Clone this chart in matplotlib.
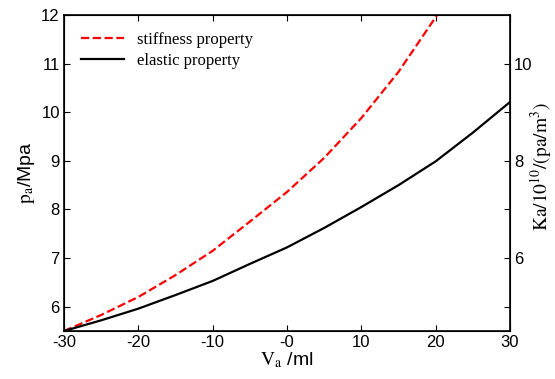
import numpy as np
import matplotlib
matplotlib.use('Agg')
import matplotlib.pyplot as plt

plt.rcParams['font.family'] = ['Liberation Sans', 'DejaVu Sans']
plt.rcParams['mathtext.fontset'] = 'stix'

# 数据
v_stiff = [-30, -25, -20, -15, -10, -5, 0, 5, 10, 15, 20.2]
p_stiff = [5.5, 5.83, 6.2, 6.65, 7.15, 7.75, 8.36, 9.06, 9.88, 10.83, 12.0]

v_elastic = [-30, -25, -20, -15, -10, -5, 0, 5, 10, 15, 20, 25, 30]
p_elastic = [5.5, 5.72, 5.96, 6.24, 6.53, 6.88, 7.22, 7.62, 8.05, 8.5, 8.99, 9.58, 10.21]

x_ticks = [-30, -20, -10, 0, 10, 20, 30]
x_labels = ['-30', '-20', '-10', '-0', '10', '20', '30']
left_ticks = [6, 7, 8, 9, 10, 11, 12]
right_ticks = [5, 6, 7, 8, 9, 10]
right_labels = ['', '6', '', '8', '', '10']

fig = plt.figure(figsize=(5.55, 3.79), dpi=100)
ax = fig.add_axes([0.1153, 0.1266, 0.8036, 0.8338])

ax.plot(v_stiff, p_stiff, 'r--', lw=1.6, label='stiffness property')
ax.plot(v_elastic, p_elastic, 'k-', lw=1.6, label='elastic property')

ax.set_xlim(-30, 30)
ax.set_ylim(5.5, 12)
ax.set_xticks(x_ticks)
ax.set_xticklabels(x_labels)
ax.set_yticks(left_ticks)
ax.tick_params(direction='in', length=4, labelsize=12, top=True, width=0.8, pad=3)
for s in ax.spines.values():
    s.set_linewidth(1.2)

ax.set_xlabel(r'$\mathrm{V_a}$ /ml', fontsize=14, labelpad=0)
ax.set_ylabel(r'$\mathrm{p_a}$/Mpa', fontsize=14, labelpad=3)

leg = ax.legend(loc='upper left', frameon=False, prop={'family': 'Liberation Serif', 'size': 12},
                handlelength=2.6, borderaxespad=0.6, labelspacing=0.3)

ax2 = ax.twinx()
ax2.set_ylim(4.5, 11)
ax2.set_yticks(right_ticks)
ax2.set_yticklabels(right_labels)
ax2.tick_params(direction='in', length=4, labelsize=12, width=0.8, pad=3)

# 右侧标签
fig.text(0.975, 0.56, r'$\mathrm{Ka/10^{10}/(pa/m^{3})}$', fontsize=14,
         rotation=90, ha='center', va='center')

plt.savefig('out.png', dpi=100)
